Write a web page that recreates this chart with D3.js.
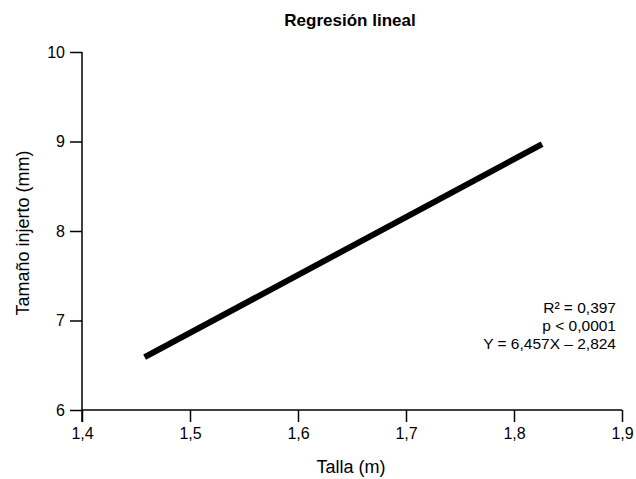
<!DOCTYPE html>
<html><head><meta charset="utf-8">
<script src="https://cdn.jsdelivr.net/npm/d3@7"></script>
<style>body{margin:0;background:#fff}svg{display:block}text{font-family:"Liberation Sans",Arial,sans-serif;fill:#000}</style>
</head><body><svg id="c" width="636" height="479"></svg>
<script>
const title = "Regresión lineal";
const xLabel = "Talla (m)";
const yLabel = "Tamaño injerto (mm)";
const xTicks = [1.4, 1.5, 1.6, 1.7, 1.8, 1.9];
const yTicks = [6, 7, 8, 9, 10];
const lineX = [1.458, 1.826];
const lineY = [6.59, 8.97];
const statsLines = ["R² = 0,397", "p < 0,0001", "Y = 6,457X – 2,824"];

const svg = d3.select("#c");
const x = d3.scaleLinear().domain([1.4, 1.9]).range([82, 622]);
const y = d3.scaleLinear().domain([6, 10]).range([410, 52]);
const fmt = d => String(d).replace(".", ",");

const gx = svg.append("g").attr("transform", "translate(0,410)")
  .call(d3.axisBottom(x).tickValues(xTicks).tickFormat(fmt).tickSize(12).tickPadding(6).tickSizeOuter(0));
const gy = svg.append("g").attr("transform", "translate(82,0)")
  .call(d3.axisLeft(y).tickValues(yTicks).tickFormat(d => d).tickSize(12).tickPadding(5).tickSizeOuter(0));
[gx, gy].forEach(g => {
  g.attr("font-size", 16).attr("font-family", '"Liberation Sans",Arial,sans-serif');
  g.selectAll("path,line").attr("stroke", "#000").attr("stroke-width", 1.5);
  g.selectAll("text").attr("fill", "#000");
});
gy.select(".domain").attr("d", "M0,52V422");
gx.select(".domain").attr("d", "M82,0H622");

const data = lineX.map((v, i) => [v, lineY[i]]);
svg.append("path").datum(data)
  .attr("d", d3.line().x(d => x(d[0])).y(d => y(d[1])))
  .attr("stroke", "#000").attr("stroke-width", 6).attr("fill", "none");

svg.append("text").attr("x", 350).attr("y", 26).attr("text-anchor", "middle")
  .attr("font-size", 17).attr("font-weight", "bold").text(title);
svg.append("text").attr("x", 351).attr("y", 473).attr("text-anchor", "middle")
  .attr("font-size", 18).text(xLabel);
svg.append("text").attr("transform", "translate(29,233) rotate(-90)").attr("text-anchor", "middle")
  .attr("font-size", 18).text(yLabel);
svg.append("g").selectAll("text").data(statsLines).join("text")
  .attr("x", 616).attr("y", (d, i) => 313 + i * 18).attr("text-anchor", "end")
  .attr("font-size", 15.5).text(d => d);
</script></body></html>
